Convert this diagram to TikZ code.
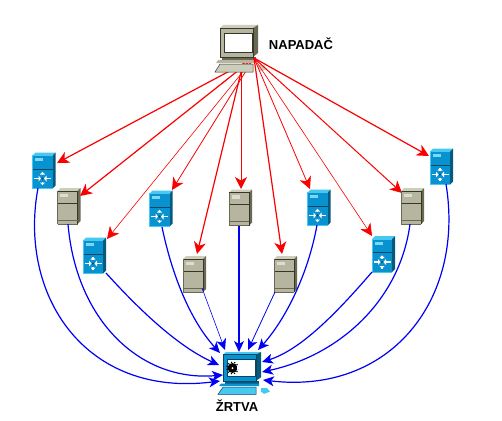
\documentclass[tikz,border=0pt]{standalone}
\usepackage{fontspec}
\setmainfont{Liberation Sans}
\usetikzlibrary{calc,arrows.meta}
\definecolor{redline}{RGB}{250,0,0}
\definecolor{blueline}{RGB}{0,0,245}
\definecolor{rface}{RGB}{8,146,208}
\definecolor{rtop}{RGB}{70,200,240}
\definecolor{rside}{RGB}{8,90,125}
\definecolor{rdark}{RGB}{5,70,100}
\definecolor{sface}{RGB}{182,182,160}
\definecolor{stop}{RGB}{205,205,188}
\definecolor{sside}{RGB}{105,105,85}
\definecolor{sdark}{RGB}{55,55,40}
\tikzset{
  x=1pt,y=-1pt,
  devbox/.style={minimum width=22pt,minimum height=35pt,inner sep=0pt,outer sep=0pt},
  pcbox/.style={minimum width=50pt,minimum height=44pt,inner sep=0pt,outer sep=0pt},
  lbl/.style={font=\bfseries\fontsize{13pt}{15pt}\selectfont,inner sep=0pt,text=black},
  atk/.style={draw=redline,line width=#1,-{Stealth[length=12pt,width=12pt,inset=3.5pt]}},
  atk/.default=1pt,
  flow/.style={draw=blueline,line width=#1,-{Stealth[length=11pt,width=10pt,inset=3pt]}},
  flow/.default=1.2pt,
  pics/routerdev/.style={code={
    \fill[rtop] (-11.5,-15) -- (-8.5,-18) -- (11.5,-18) -- (8.5,-15) -- cycle;
    \fill[rside] (8.5,-15) -- (11.5,-18) -- (11.5,15) -- (8.5,18) -- cycle;
    \fill[rface] (-11.5,-15) rectangle (8.5,18);
    \draw[rtop,line width=.8pt] (-11.5,18) -- (-11.5,-15) -- (8.5,-15);
    \draw[rtop,line width=.8pt] (-11.5,18) -- (8.5,18);
    \fill[rtop!70!white] (-9,-12.5) rectangle (-1,-9.5);
    \draw[rdark,line width=.8pt] (-11,-1.5) -- (8.5,-1.5);
    \foreach \a in {0,180}{
      \draw[white,line width=1.8pt,rotate around={\a:(-1.5,8)}] (-10,8) -- (-4.5,8);
      \fill[white,rotate around={\a:(-1.5,8)}] (-3,8) -- (-5.5,5) -- (-5.5,11) -- cycle;
    }
    \foreach \a in {90,270}{
      \draw[white,line width=1.6pt,rotate around={\a:(-1.5,8)}] (-8,8) -- (-5,8);
      \fill[white,rotate around={\a:(-1.5,8)}] (-8.2,8) -- (-5.5,5.5) -- (-5.5,10.5) -- cycle;
    }
    \fill[rdark] (-1.5,8) circle (1.2);
  }},
  pics/serverdev/.style={code={
    \fill[stop] (-11.5,-15) -- (-8.5,-18) -- (11.5,-18) -- (8.5,-15) -- cycle;
    \fill[sside] (8.5,-15) -- (11.5,-18) -- (11.5,15) -- (8.5,18) -- cycle;
    \fill[sface] (-11.5,-15) rectangle (8.5,18);
    \draw[sdark,line width=.6pt] (-11.5,-15) -- (8.5,-15) -- (8.5,18);
    \draw[sside,line width=.7pt] (-11.5,18) -- (-11.5,-15) (-11.5,18) -- (8.5,18);
    \fill[stop!70!white] (-9,-12.5) rectangle (-1,-9);
    \draw[sdark,line width=.8pt] (-11,-3) -- (8.5,-3);
    \draw[sside,line width=.6pt] (-11,14) -- (8.5,14);
  }},
  pics/pcdev/.style n args={4}{code={
    % mouse
    \fill[#1] (38,40) -- (44,40) -- (47,44) -- (41,46.5) -- (38,44) -- cycle;
    % stand
    \fill[#3] (2,32) rectangle (36,36);
    \fill[#2] (-2,35) -- (36,35) -- (36,38) -- (-4,38) -- cycle;
    % keyboard
    \fill[#1] (0,39) -- (33,39) -- (33,47) -- (-5,47) -- cycle;
    \draw[#4,line width=.5pt] (0,39) -- (33,39) -- (33,47) -- (-5,47) -- cycle;
    % monitor
    \fill[#1] (0,3) -- (3,0) -- (38,0) -- (33,3) -- cycle;
    \fill[#3] (33,3) -- (38,0) -- (38,28) -- (33,32) -- cycle;
    \fill[#2] (0,3) rectangle (33,32);
    \draw[#4,line width=.5pt] (0,3) rectangle (33,32);
    \fill[white] (4,8) rectangle (32,27);
    \draw[#4,line width=.7pt] (4,8) rectangle (32,27);
  }},
}
\begin{document}
\begin{tikzpicture}
\useasboundingbox (0,0) rectangle (502,420);
% device nodes
\node[devbox] (r1) at (44,170.5) {};
\node[devbox] (s1) at (69,206) {};
\node[devbox] (r2) at (94.5,255.5) {};
\node[devbox] (r3) at (161,208.5) {};
\node[devbox] (s2) at (194.5,274) {};
\node[devbox] (s3) at (240.5,207.5) {};
\node[devbox] (s4) at (285.5,274) {};
\node[devbox] (r4) at (319,207.5) {};
\node[devbox] (r5) at (383.5,254) {};
\node[devbox] (s5) at (412.5,206) {};
\node[devbox] (r6) at (441.5,166.5) {};
\node[pcbox] (a) at (240,48) {};
\node[pcbox] (v) at (240,374) {};
% attack lines passing behind the attacker PC
\draw[atk=1.2pt] ($(a)+(14,10)$) -- ($(r1)+(13,-7.5)$);
\draw[atk=1.2pt] ($(a)+(14,10)$) -- ($(s1)+(11,-10)$);
\draw[atk=.6pt] ($(a)+(14,10)$) -- ($(r2)+(12.5,-16.5)$);
\draw[atk=.8pt] ($(a)+(14,10)$) -- ($(r3)+(11,-18.5)$);
\draw[atk=1.2pt] ($(a)+(2,20)$) -- ($(s2)+(2.5,-20)$);
\draw[atk=.8pt] ($(a)+(1,20)$) -- ($(s3)+(.5,-18.5)$);
% attacker PC
\pic at (220,25) {pcdev={stop}{sface}{sside}{sdark}};
% attack lines in front of it
\draw[atk=1.2pt] ($(a)+(14,10)$) -- ($(s4)+(-3.5,-20)$);
\draw[atk=.8pt] ($(a)+(14,10)$) -- ($(r4)+(-9,-18.5)$);
\draw[atk=.6pt] ($(a)+(14,10)$) -- ($(r5)+(-11.5,-18)$);
\draw[atk=1pt] ($(a)+(14,10)$) -- ($(s5)+(-10.5,-13)$);
\draw[atk=1.2pt] ($(a)+(14,10)$) -- ($(r6)+(-12.5,-10.5)$);
% devices
\pic at (r1) {routerdev};
\pic at (r2) {routerdev};
\pic at (r3) {routerdev};
\pic at (r4) {routerdev};
\pic at (r5) {routerdev};
\pic at (r6) {routerdev};
\pic at (s1) {serverdev};
\pic at (s2) {serverdev};
\pic at (s3) {serverdev};
\pic at (s4) {serverdev};
\pic at (s5) {serverdev};
% victim PC
\pic[yscale=.9] at (223,352) {pcdev={rtop}{rface}{rside}{rdark}};
\fill[black] (232.5,368) circle (5);
\draw[black,line width=1.2pt,dotted] (232.5,368) circle (5.8);
\fill[white] (232.5,368) circle (1);
\draw[black!70,line width=2.8pt] (237,368) -- (251,368);
\draw[white,line width=1.4pt] (237,368) -- (250.5,368);
% flooding lines
\draw[flow] ($(r1)+(-6,17.5)$) .. controls (18,295) and (85,398) .. ($(v)+(-20,7)$);
\draw[flow] ($(s1)+(-1,18)$) .. controls (76,320) and (140,382) .. ($(v)+(-17,1)$);
\draw[flow] ($(r2)+(11.5,17.5)$) .. controls (135,305) and (175,345) .. ($(v)+(-21,-9)$);
\draw[flow] ($(r3)+(1,18.5)$) .. controls (172,275) and (190,320) .. ($(v)+(-20,-21)$);
\draw[flow=.6pt] ($(s2)+(7.5,14)$) -- ($(v)+(-15,-24)$);
\draw[flow=1.3pt] ($(s3)+(-1.5,18.5)$) -- ($(v)+(-1,-22)$);
\draw[flow=.8pt] ($(s4)+(-10.5,18)$) -- ($(v)+(8,-24)$);
\draw[flow] ($(r4)+(-2,17.5)$) .. controls (308,275) and (285,320) .. ($(v)+(18,-24)$);
\draw[flow] ($(r5)+(-11.5,18)$) .. controls (335,315) and (300,350) .. ($(v)+(22,-12)$);
\draw[flow] ($(s5)+(-2.5,18)$) .. controls (400,300) and (340,355) .. ($(v)+(22,-2)$);
\draw[flow] ($(r6)+(4.5,17.5)$) .. controls (465,300) and (390,395) .. ($(v)+(23,6)$);
% labels
\node[lbl] (la) at (301,44) {NAPADAČ};
\node[lbl] (lv) at (237,406) {ŽRTVA};
\end{tikzpicture}
\end{document}
